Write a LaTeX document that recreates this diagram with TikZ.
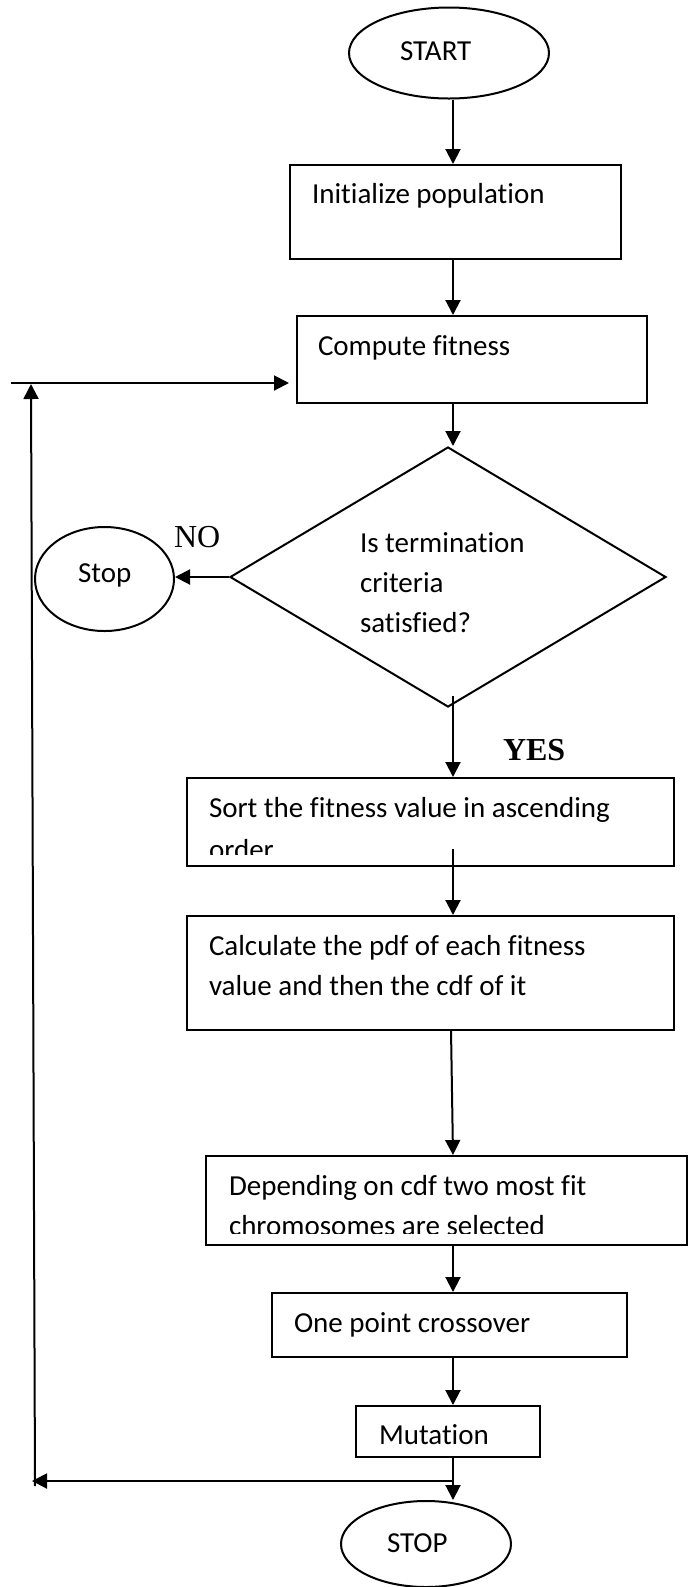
\documentclass[tikz,border=0pt]{standalone}
\usepackage{fontspec}
\setmainfont{Carlito}[Ligatures=NoCommon, Contextuals=NoAlternate]
\newfontfamily\serifrm{Liberation Serif}
\usetikzlibrary{arrows.meta, shapes.geometric, fit, calc}

\begin{document}
\begin{tikzpicture}[x=0.5pt, y=-0.5pt,
  line width=1pt,
  box/.style={draw, rectangle, inner sep=0pt, line width=1pt},
  oval/.style={draw, ellipse, inner sep=0pt, line width=1pt},
  lbl/.style={anchor=base west, inner sep=0pt, font=\fontsize{14.5}{17}\selectfont},
  yn/.style={anchor=base west, inner sep=0pt, font=\serifrm\fontsize{16}{19}\selectfont},
  arr/.style={-{Triangle[length=7.5pt, width=7.5pt]}, line width=1pt},
]
\useasboundingbox (0,0) rectangle (688,1587);

% vertical axis of the main flow
\coordinate (axis) at (453,0);

% start terminal
\node[oval, minimum width=100pt, minimum height=45.5pt] (start) at (449,53) {};
\node[lbl] (starttxt) at (399,60) {START};

% initialisation
\node[box, fit={(290,165) (621,259)}] (init) {};
\node[lbl] (inittxt) at (311,203) {Initialize population};

% fitness evaluation
\node[box, fit={(297,316) (647,403)}] (comp) {};
\node[lbl] (comptxt) at (317,355) {Compute fitness};

% termination test
\node[draw, diamond, aspect=1.677, minimum width=218pt, minimum height=130pt,
      inner sep=0pt, line width=1pt] (dec) at (448,577) {};
\node[lbl] (dec1) at (359,552) {Is termination};
\node[lbl] (dec2) at (359,592) {criteria};
\node[lbl] (dec3) at (359,632) {satisfied?};

% early stop
\node[oval, minimum width=69.5pt, minimum height=52pt] (stop) at (104.5,579) {};
\node[lbl] (stoptxt) at (77,582) {Stop};
\node[yn] (no) at (173,547) {NO};
\node[yn, font=\serifrm\bfseries\fontsize{16}{19}\selectfont] (yes) at (502,760) {YES};

% sorting
\node[box, fit={(187,778) (674,866)}] (sort) {};
\node[lbl] (sort1) at (208,817) {Sort the fitness value in ascending};
\begin{scope}
  \clip (187,778) rectangle (674,854);
  \node[lbl] (sort2) at (208,859) {order};
\end{scope}

% pdf / cdf
\node[box, fit={(187,916) (674,1030)}] (calc) {};
\node[lbl] (calc1) at (208,955) {Calculate the pdf of each fitness};
\node[lbl] (calc2) at (208,995) {value and then the cdf of it};

% selection
\node[box, fit={(206,1156) (687,1245)}] (dep) {};
\node[lbl] (dep1) at (228,1195) {Depending on cdf two most fit};
\begin{scope}
  \clip (206,1156) rectangle (687,1233);
  \node[lbl] (dep2) at (228,1235) {chromosomes are selected};
\end{scope}

% crossover and mutation
\node[box, fit={(272,1293) (627,1357)}] (one) {};
\node[lbl] (onetxt) at (293,1332) {One point crossover};
\node[box, fit={(356,1406) (540,1457)}] (mut) {};
\node[lbl] (muttxt) at (378,1444) {Mutation};

% final terminal
\node[oval, minimum width=85pt, minimum height=43pt] (fin) at (426,1544) {};
\node[lbl] (fintxt) at (386,1552) {STOP};

% main flow
\draw[arr] (axis |- start.south) -- (axis |- init.north);
\draw[arr] (axis |- init.south) -- (axis |- comp.north);
\draw[arr] (axis |- comp.south) -- (axis |- dec.north);
\draw[arr] (dec.west) -- (dec.west -| stop.east);
\draw[arr] ($(axis |- dec.south)+(0,-12)$) -- (axis |- sort.north);
\draw[arr] ($(axis |- sort.south)+(0,-18)$) -- (axis |- calc.north);
\draw[arr] ($(axis |- calc.south)+(-2,-2)$) -- (axis |- dep.north);
\draw[arr] (axis |- dep.south) -- (axis |- one.north);
\draw[arr] (axis |- one.south) -- (axis |- mut.north);
\draw[arr] (axis |- mut.south) -- (axis |- fin.north);

% loop back to fitness evaluation
\coordinate (fbjoin) at (453,1481);
\coordinate (fbleft) at (32,1481);
\coordinate (fbbottom) at (35,1486);
\coordinate (fbtop) at (31,384);
\coordinate (fbstart) at (11,383);
\draw[arr] (fbjoin) -- (fbleft);
\draw[arr] (fbbottom) -- (fbtop);
\draw[arr] (fbstart) -- ($(comp.west |- fbstart)+(-7,0)$);
\end{tikzpicture}
\end{document}
